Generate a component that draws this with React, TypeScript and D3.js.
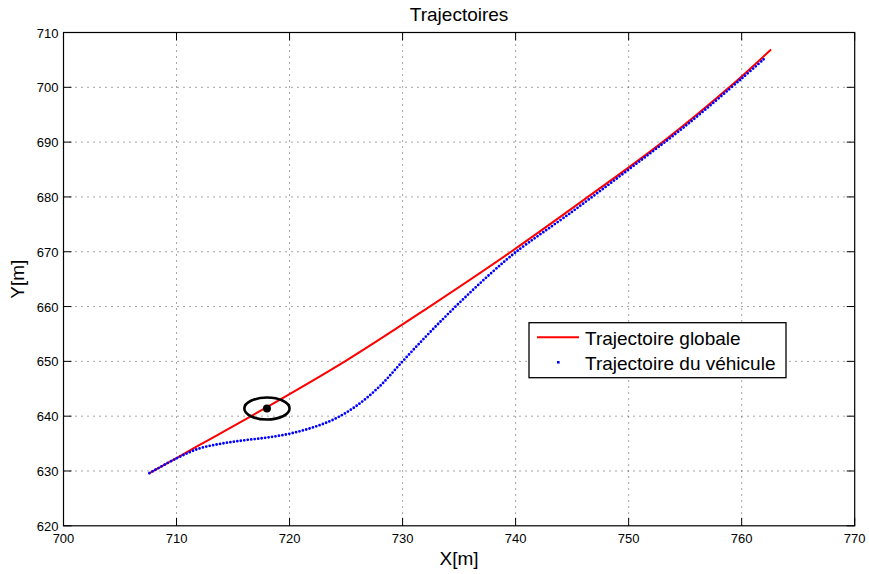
import * as d3 from "d3";

// trajectoire globale (reference path), read at the grid crossings
const globalX = [707.6, 712, 716.6, 724.9, 732.4, 739.6, 746.4, 753.0, 758.9, 762.6];
const globalY = [629.6, 634.7, 640, 650, 660, 670, 680, 690, 700, 706.9];

// trajectoire du vehicule (drawn dotted)
const vehX = [707.6, 710, 712, 714, 716, 718, 720, 722, 724, 726, 728, 730, 732, 734, 736, 738, 740, 745, 750, 755, 760, 762.1];
const vehY = [629.6, 632.3, 634.1, 635.0, 635.6, 636.1, 636.8, 637.9, 639.5, 642.0, 645.5, 650.0, 654.4, 658.6, 662.6, 666.4, 669.9, 677.3, 685.0, 692.9, 701.6, 705.4];

// marked point
const markX = 718;
const markY = 641.4;
const markR = 2;

const xTicks = [700, 710, 720, 730, 740, 750, 760, 770];
const yTicks = [620, 630, 640, 650, 660, 670, 680, 690, 700, 710];

const legendLabels = ["Trajectoire globale", "Trajectoire du véhicule"];

const FONT = "'Liberation Sans', Arial, Helvetica, sans-serif";

export default function App() {
  const width = 869;
  const height = 574;
  const left = 63.5, right = 854.7, top = 32.5, bottom = 525.8;

  const x = d3.scaleLinear().domain([700, 770]).range([left, right]);
  const y = d3.scaleLinear().domain([620, 710]).range([bottom, top]);

  const line = d3
    .line<[number, number]>()
    .x(d => x(d[0]))
    .y(d => y(d[1]))
    .curve(d3.curveCatmullRom.alpha(0.5));

  const globalPts = globalX.map((v, i) => [v, globalY[i]] as [number, number]);
  const vehPts = vehX.map((v, i) => [v, vehY[i]] as [number, number]);

  const tickLen = 8;
  const gridX = xTicks.slice(1, -1);
  const gridY = yTicks.slice(1, -1);

  const rx = x(700 + markR) - x(700);
  const ry = y(620) - y(620 + markR);

  return (
    <svg
      width={width}
      height={height}
      style={{ position: "absolute", left: 0, top: 0, background: "#fff" }}
      fontFamily={FONT}
    >
      <rect x={0} y={0} width={width} height={height} fill="#fff" />

      {/* grid */}
      <g stroke="#000" strokeOpacity={0.7} strokeWidth={1} strokeDasharray="1,5">
        {gridX.map(t => (
          <line key={"gx" + t} x1={x(t)} x2={x(t)} y1={top} y2={bottom} />
        ))}
        {gridY.map(t => (
          <line key={"gy" + t} x1={left} x2={right} y1={y(t)} y2={y(t)} />
        ))}
      </g>

      {/* ticks, inward on all sides */}
      <g stroke="#000" strokeWidth={1}>
        {xTicks.map(t => (
          <g key={"tx" + t}>
            <line x1={x(t)} x2={x(t)} y1={bottom} y2={bottom - tickLen} />
            <line x1={x(t)} x2={x(t)} y1={top} y2={top + tickLen} />
          </g>
        ))}
        {yTicks.map(t => (
          <g key={"ty" + t}>
            <line x1={left} x2={left + tickLen} y1={y(t)} y2={y(t)} />
            <line x1={right} x2={right - tickLen} y1={y(t)} y2={y(t)} />
          </g>
        ))}
      </g>

      {/* tick labels */}
      <g fontSize={13} fill="#000">
        {xTicks.map(t => (
          <text key={"lx" + t} x={x(t)} y={543} textAnchor="middle">
            {t}
          </text>
        ))}
        {yTicks.map(t => (
          <text key={"ly" + t} x={58.5} y={y(t) + 5} textAnchor="end">
            {t}
          </text>
        ))}
      </g>

      {/* series */}
      <path d={line(globalPts) ?? ""} fill="none" stroke="#ff0000" strokeWidth={2} />
      <path
        d={line(vehPts) ?? ""}
        fill="none"
        stroke="#0000ff"
        strokeWidth={2.8}
        strokeLinecap="round"
        strokeDasharray="0,3.5"
      />

      {/* marked point */}
      <ellipse cx={x(markX)} cy={y(markY)} rx={rx} ry={ry} fill="none" stroke="#000" strokeWidth={2.6} />
      <circle cx={x(markX)} cy={y(markY)} r={4} fill="#000" />

      {/* axes box */}
      <rect x={left} y={top} width={right - left} height={bottom - top} fill="none" stroke="#000" strokeWidth={1.2} />

      {/* legend */}
      <g>
        <rect x={529} y={322.7} width={257} height={55} fill="#fff" stroke="#000" strokeWidth={1.3} />
        <line x1={537} x2={579} y1={337.3} y2={337.3} stroke="#ff0000" strokeWidth={2} />
        <rect x={557} y={361} width={2.6} height={2.6} fill="#0000ff" />
        <text x={585} y={345} fontSize={19}>{legendLabels[0]}</text>
        <text x={585} y={370} fontSize={19}>{legendLabels[1]}</text>
      </g>

      {/* title and labels */}
      <text x={(left + right) / 2} y={20.7} fontSize={19} textAnchor="middle">
        Trajectoires
      </text>
      <text x={(left + right) / 2} y={565} fontSize={19} textAnchor="middle">
        X[m]
      </text>
      <text
        transform={`translate(24,${(top + bottom) / 2}) rotate(-90)`}
        fontSize={19}
        textAnchor="middle"
      >
        Y[m]
      </text>
    </svg>
  );
}
